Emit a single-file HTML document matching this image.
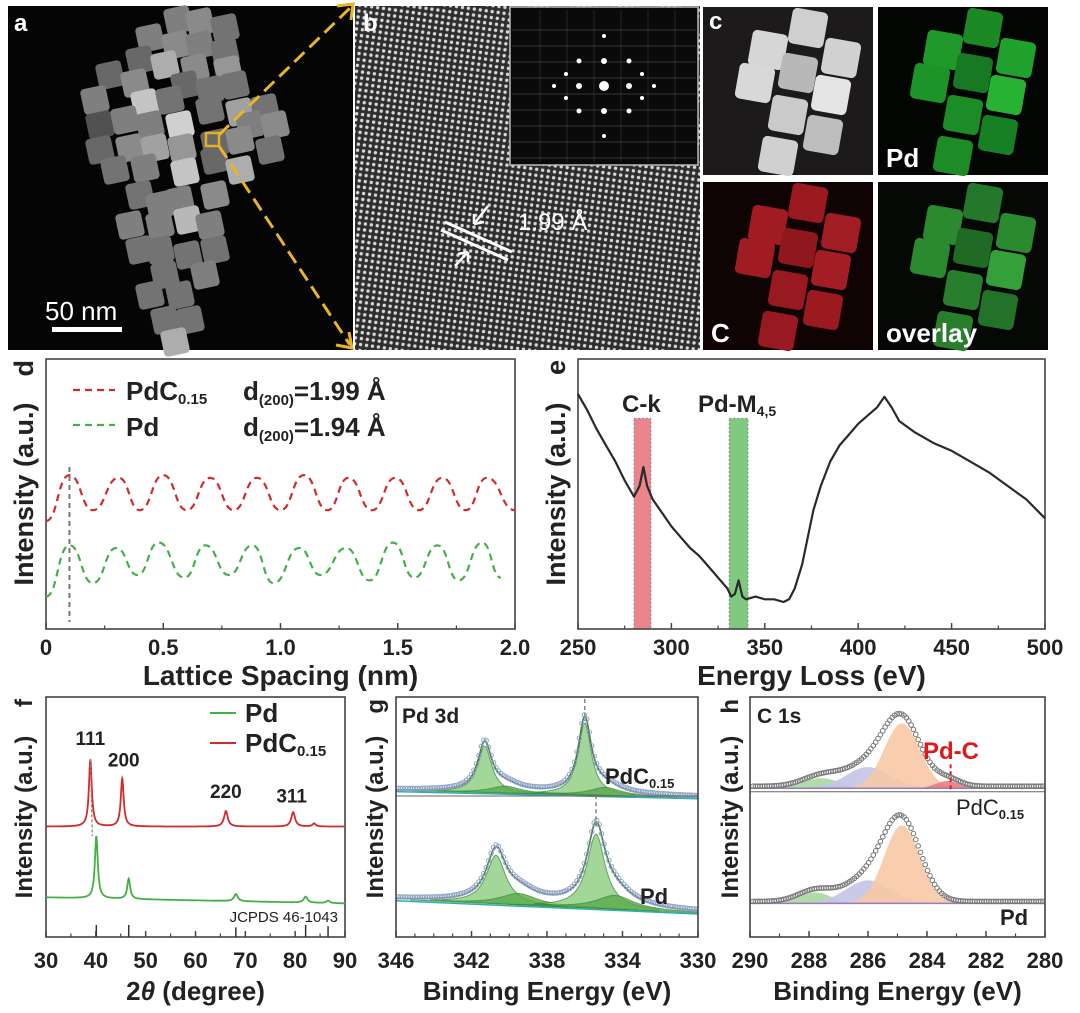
<!DOCTYPE html>
<html><head><meta charset="utf-8">
<style>
html,body{margin:0;padding:0;background:#fff;}
svg{display:block;font-family:"Liberation Sans",Arial,sans-serif;}
</style></head>
<body>
<svg id="fig" width="1080" height="1013" viewBox="0 0 1080 1013" xmlns="http://www.w3.org/2000/svg">
<defs>
<pattern id="lat" x="0" y="0" width="6" height="6" patternUnits="userSpaceOnUse" patternTransform="rotate(8)">
<rect width="6" height="6" fill="#2e2e2e"/><circle cx="3" cy="3" r="1.7" fill="#d8d8d8"/>
</pattern>
<clipPath id="clipG"><rect x="396" y="697" width="302" height="240"/></clipPath>
<clipPath id="clipH"><rect x="750" y="697" width="295" height="240"/></clipPath>
</defs>
<rect width="1080" height="1013" fill="#fff"/>
<g id="top"></g>
<g id="charts"></g>
</svg>
<script>
// ---------- DATA ----------
const dRedX=[0,0.1,0.2,0.31,0.4,0.5,0.6,0.7,0.8,0.9,1.0,1.1,1.2,1.29,1.39,1.49,1.59,1.69,1.79,1.88,2.0];
const dRedY=[0.40,0.57,0.44,0.56,0.44,0.57,0.44,0.56,0.44,0.56,0.44,0.57,0.44,0.56,0.44,0.56,0.44,0.56,0.44,0.56,0.44];
const dGreenX=[0,0.1,0.2,0.3,0.39,0.48,0.59,0.68,0.78,0.88,0.97,1.08,1.17,1.28,1.38,1.48,1.57,1.67,1.76,1.86,1.94];
const dGreenY=[0.12,0.31,0.17,0.30,0.20,0.32,0.19,0.31,0.20,0.31,0.17,0.30,0.20,0.30,0.18,0.32,0.19,0.31,0.18,0.32,0.19];
const dTicks=["0","0.5","1.0","1.5","2.0"];
const eX=[250,255,260,265,270,275,280,283,285,287,290,295,300,305,310,315,320,325,330,332,334,336,338,340,345,350,355,360,363,366,370,373,376,380,385,390,395,400,405,410,414,418,422,430,440,450,460,470,480,490,500];
const eY=[0.87,0.81,0.74,0.68,0.62,0.55,0.49,0.53,0.60,0.53,0.48,0.43,0.38,0.34,0.30,0.27,0.23,0.19,0.15,0.12,0.13,0.18,0.12,0.11,0.12,0.11,0.11,0.10,0.11,0.15,0.24,0.34,0.44,0.53,0.62,0.68,0.72,0.76,0.79,0.82,0.86,0.82,0.77,0.73,0.69,0.66,0.62,0.58,0.53,0.48,0.41];
const eTicks=[250,300,350,400,450,500];
const eBands=[[280,289,"#e8707a"],[331,341,"#6cc06a"]];
const fRedPos=[38.9,45.3,66.1,79.6,83.8], fRedH=[0.28,0.20,0.065,0.06,0.013], fRedW=[0.35,0.35,0.45,0.45,0.4];
const fGreenPos=[40.1,46.6,68.1,82.1,86.6], fGreenH=[0.26,0.085,0.03,0.025,0.01], fGreenW=[0.35,0.35,0.45,0.45,0.4];
const fRedBase=[0.46,0.46], fGreenBase=[0.165,0.14];
const fStickPos=[40.1,46.6,68.1,82.1,86.6], fStickH=[0.05,0.05,0.04,0.05,0.045];
const fTicks=[30,40,50,60,70,80,90];
const fLabels=["111","200","220","311"], fLabelX=[38.9,45.6,66.1,79.3], fLabelY=[0.80,0.71,0.58,0.56];
const gTopPos=[341.3,340.2,336.0,334.9], gTopH=[0.20,0.03,0.31,0.035], gTopW=[0.45,1.0,0.42,1.0];
const gBotPos=[340.7,339.5,335.4,334.4], gBotH=[0.21,0.05,0.32,0.06], gBotW=[0.62,1.2,0.58,1.2];
const gTopBase=[0.61,0.58], gBotBase=[0.155,0.10];
const gTicks=[346,342,338,334,330];
const hTopPos=[287.6,286.0,284.85,283.3], hTopH=[0.042,0.088,0.27,0.03], hTopW=[0.6,0.75,0.6,0.4];
const hBotPos=[287.8,286.0,284.85], hBotH=[0.046,0.096,0.325], hBotW=[0.55,0.75,0.6];
const hTopBase=0.62, hBotBase=0.14;
const hColors=["#a8d8a0","#c4c4e6","#f7c9a6","#ec7c7c"];
const hTicks=[290,288,286,284,282,280];

// ---------- HELPERS ----------
const NS="http://www.w3.org/2000/svg";
const charts=document.getElementById("charts");
const topG=document.getElementById("top");
function mk(tag,parent){const e=document.createElementNS(NS,tag);parent.appendChild(e);return e;}
function set(e,o){for(const k in o)e.setAttribute(k,o[k]);return e;}
function scale(d0,d1,r0,r1){return v=>r0+(v-d0)/(d1-d0)*(r1-r0);}
function txt(parent,x,y,s,size,opts){const t=mk("text",parent);set(t,{x:x,y:y,"font-size":size,"font-weight":(opts&&opts.nb)?"normal":"bold",fill:(opts&&opts.fill)||"#222","text-anchor":(opts&&opts.anchor)||"start"});if(opts&&opts.rot)t.setAttribute("transform","rotate(-90 "+x+" "+y+")");t.textContent=s;return t;}
function smooth(xs,ys,sx,sy){let d="M"+sx(xs[0]).toFixed(1)+","+sy(ys[0]).toFixed(1);for(let i=1;i<xs.length;i++){const x0=sx(xs[i-1]),x1=sx(xs[i]),m=(x0+x1)/2;d+=" C"+m.toFixed(1)+","+sy(ys[i-1]).toFixed(1)+" "+m.toFixed(1)+","+sy(ys[i]).toFixed(1)+" "+x1.toFixed(1)+","+sy(ys[i]).toFixed(1);}return d;}
function lor(x,p,h,w){const u=(x-p)/w;return h/(1+u*u);}
function gau(x,p,h,w){const u=(x-p)/w;return h*Math.exp(-0.5*u*u);}
function frame(g,X0,X1,Y0,Y1){const r=mk("rect",g);set(r,{x:X0,y:Y0,width:X1-X0,height:Y1-Y0,fill:"none",stroke:"#444","stroke-width":1.6});}
function xticks(g,sx,ticks,labels,minor,Y1,ly,size){ticks.forEach((t,i)=>{const l=mk("line",g);set(l,{x1:sx(t),x2:sx(t),y1:Y1,y2:Y1-6,stroke:"#444","stroke-width":1.5});const tl=txt(g,sx(t),ly,labels[i],size,{anchor:"middle"});});
 minor.forEach(t=>{const l=mk("line",g);set(l,{x1:sx(t),x2:sx(t),y1:Y1,y2:Y1-3.5,stroke:"#444","stroke-width":1.2});});}
function ytitle(g,x,yc,letter,ytop,size){const t=txt(g,x,yc,"Intensity (a.u.)",size,{anchor:"middle",rot:true});
 const L=txt(g,x,ytop,letter,size,{anchor:"end",rot:true});}

// ---------- TOP IMAGES ----------
(function(){
 const a=mk("g",topG);
 set(mk("rect",a),{x:8,y:6,width:345,height:344,fill:"#050505"});
 const cubes=[[178,20,.55],[200,22,.6],[225,28,.5],[150,38,.55],[176,45,.6],[200,45,.55],[225,52,.5],[140,60,.45],[165,65,.75],[195,68,.6],[228,70,.65],[110,75,.45],[135,83,.6],[185,85,.45],[210,90,.5],[235,85,.5],[95,100,.55],[145,103,.85],[170,100,.5],[210,110,.5],[240,112,.7],[265,108,.5],[100,125,.35],[125,120,.55],[150,125,.55],[180,125,.9],[250,125,.55],[275,125,.6],[100,150,.45],[130,148,.6],[155,148,.7],[182,148,.65],[215,143,.45],[240,140,.6],[270,150,.5],[115,170,.5],[145,168,.55],[185,172,.85],[215,160,.45],[240,170,.75],[140,195,.5],[160,205,.55],[180,200,.55],[215,195,.6],[130,225,.55],[160,225,.55],[188,220,.8],[210,225,.55],[140,250,.5],[160,250,.5],[188,255,.5],[215,250,.5],[165,275,.5],[205,275,.55],[150,295,.5],[180,295,.5],[165,320,.5],[190,320,.5],[175,342,.75]];
 cubes.forEach(c=>{const v=Math.round(c[2]*230);const r=mk("rect",a);set(r,{x:c[0]-13,y:c[1]-13,width:26,height:26,rx:4,fill:"rgb("+v+","+v+","+v+")",transform:"rotate(-12 "+c[0]+" "+c[1]+")"});});
 set(mk("rect",a),{x:206,y:133,width:13,height:13,fill:"none",stroke:"#e0b020","stroke-width":2.5});
 set(mk("path",a),{d:"M219,135 L350,8 M219,146 L350,345",stroke:"#e8b428","stroke-width":3,"stroke-dasharray":"14 7",fill:"none"});
 set(mk("path",a),{d:"M337,6 L353,4 L351,20 M336,345 L352,348 L349,332",stroke:"#e8b428","stroke-width":3,fill:"none"});
 set(mk("rect",a),{x:52,y:327,width:70,height:5,fill:"#fff"});
 const sb=txt(a,45,320,"50 nm",26,{fill:"#fff",nb:true});
 const la=txt(a,14,31,"a",24,{fill:"#fff"});

 const b=mk("g",topG);
 set(mk("rect",b),{x:355,y:6,width:345,height:344,fill:"url(#lat)"});
 set(mk("rect",b),{x:510,y:7,width:188,height:158,fill:"#0a0a0a",stroke:"#bbb","stroke-width":1.5});
 for(let i=0;i<9;i++){set(mk("line",b),{x1:512,x2:696,y1:30+i*16,y2:30+i*16,stroke:"#555","stroke-width":1,opacity:.6});}
 for(let i=0;i<6;i++){set(mk("line",b),{x1:540+i*27,x2:540+i*27,y1:10,y2:162,stroke:"#444","stroke-width":1,opacity:.5});}
 const spots=[[604,86,5],[579,86,3],[629,86,3],[604,61,3],[604,111,3],[579,61,2.5],[629,61,2.5],[579,111,2.5],[629,111,2.5],[554,86,2],[654,86,2],[604,36,2],[604,136,2],[566,74,2],[642,98,2],[566,98,2],[642,74,2]];
 spots.forEach(s=>set(mk("circle",b),{cx:s[0],cy:s[1],r:s[2],fill:"#fff"}));
 set(mk("path",b),{d:"M445,222 L512,252 M441,230 L508,260",stroke:"#fff","stroke-width":3,fill:"none"});
 set(mk("path",b),{d:"M488,206 L474,224 M474,224 L474,214 M474,224 L484,222 M455,266 L468,252 M468,252 L458,254 M468,252 L468,262",stroke:"#fff","stroke-width":2.5,fill:"none"});
 const lt=txt(b,518,230,"1.99 Å",24,{fill:"#fff",nb:true});
 const lb=txt(b,363,31,"b",24,{fill:"#fff"});

 const tiles=[[703,7,"#1c1a1a",["#d6d6d6","#cfcfcf","#d2d2d2","#d8d8d8","#b8b8b8","#e4e4e4","#cacaca","#bdbdbd","#d0d0d0"],"c",true,"panel-c-haadf"],
  [878,7,"#030503",["#1f9a2a","#1b8a25","#20a02c","#1d9428","#177a22","#28b234","#1b8c26","#188024","#1c8c27"],"Pd",false,"panel-c-pd-map"],
  [703,182,"#100304",["#a01c22","#9a1a20","#a01d23","#a01c22","#8e181e","#a21d24","#98191f","#9a1a20","#98191f"],"C",false,"panel-c-c-map"],
  [878,182,"#050805",["#2b8a30","#25782b","#2b8a30","#2a8a30","#1f6a25","#34a03a","#287e2d","#23722a","#287e2d"],"overlay",false,"panel-c-overlay"]];
 const cc=[[65,43],[105,21],[138,51],[52,76],[95,66],[128,88],[85,108],[120,128],[75,149]];
 tiles.forEach(t=>{const g=mk("g",topG);
  set(mk("rect",g),{x:t[0],y:t[1],width:170,height:168,fill:t[2]});
  cc.forEach((c,i)=>{const x=t[0]+c[0],y=t[1]+c[1];set(mk("rect",g),{x:x-18,y:y-18,width:36,height:36,rx:5,fill:t[3][i],transform:"rotate(10 "+x+" "+y+")"});});
  const l=txt(g,t[0]+(t[5]?6:8),t[5]?t[1]+22:t[1]+160,t[4],t[5]?24:26,{fill:"#fff"});});
})();

// ---------- PANEL D ----------
(function(){
 const g=mk("g",charts);
 const X0=46,X1=515,Y0=359,Y1=629;
 const sx=scale(0,2,X0,X1), sy=scale(0,1,Y1,Y0);
 frame(g,X0,X1,Y0,Y1);
 const vl=mk("line",g);set(vl,{x1:sx(0.1),x2:sx(0.1),y1:sy(0.6),y2:Y1-7,stroke:"#777","stroke-width":2,"stroke-dasharray":"5 4"});
 const r=mk("path",g);set(r,{d:smooth(dRedX,dRedY,sx,sy),fill:"none",stroke:"#d42a2a","stroke-width":2.2,"stroke-dasharray":"7 5"});
 const gr=mk("path",g);set(gr,{d:smooth(dGreenX,dGreenY,sx,sy),fill:"none",stroke:"#45b045","stroke-width":2.2,"stroke-dasharray":"7 5"});
 xticks(g,sx,[0,0.5,1,1.5,2],dTicks,[0.25,0.75,1.25,1.75],Y1,655,22);
 const xt=txt(g,(X0+X1)/2,685,"Lattice Spacing (nm)",28,{anchor:"middle"});
 ytitle(g,33,494,"d",360,27);
 const le=mk("g",g);
 set(mk("line",le),{x1:73,x2:115,y1:390,y2:390,stroke:"#d42a2a","stroke-width":2.2,"stroke-dasharray":"7 5"});
 set(mk("line",le),{x1:73,x2:115,y1:425,y2:425,stroke:"#45b045","stroke-width":2.2,"stroke-dasharray":"7 5"});
 const t1=txt(le,126,400,"PdC",26);const s1=mk("tspan",t1);set(s1,{"font-size":15,dy:4});s1.textContent="0.15";
 const t2=txt(le,126,436,"Pd",26);
 [[400,"1.99"],[436,"1.94"]].forEach(p=>{const t=txt(le,243,p[0],"d",26);const s=mk("tspan",t);set(s,{"font-size":15,dy:5});s.textContent="(200)";const s2=mk("tspan",t);set(s2,{dy:-5});s2.textContent="=" + p[1] + " Å";});
})();

// ---------- PANEL E ----------
(function(){
 const g=mk("g",charts);
 const X0=578,X1=1045,Y0=359,Y1=629;
 const sx=scale(250,500,X0,X1), sy=scale(0,1,Y1,Y0);
 eBands.forEach(b=>{const r=mk("rect",g);set(r,{x:sx(b[0]),y:sy(0.78),width:sx(b[1])-sx(b[0]),height:Y1-sy(0.78),fill:b[2],opacity:.85,stroke:"#777","stroke-width":1,"stroke-dasharray":"2 2"});});
 frame(g,X0,X1,Y0,Y1);
 let d="";eX.forEach((x,i)=>{d+=(i?"L":"M")+sx(x).toFixed(1)+","+sy(eY[i]).toFixed(1);});
 const p=mk("path",g);set(p,{d:d,fill:"none",stroke:"#2a2a2a","stroke-width":2.2,"stroke-linejoin":"round"});
 xticks(g,sx,eTicks,eTicks.map(String),[275,325,375,425,475],Y1,655,22);
 const xt=txt(g,(X0+X1)/2,685,"Energy Loss (eV)",28,{anchor:"middle"});
 ytitle(g,565,494,"e",360,27);
 const c1=txt(g,622,412,"C-k",24);
 const c2=txt(g,698,412,"Pd-M",24);const s=mk("tspan",c2);set(s,{"font-size":14,dy:4});s.textContent="4,5";
})();

// ---------- PANEL F ----------
(function(){
 const g=mk("g",charts);
 const X0=46,X1=345,Y0=697,Y1=937;
 const sx=scale(30,90,X0,X1), sy=scale(0,1,Y1,Y0);
 frame(g,X0,X1,Y0,Y1);
 function curve(pos,h,w,base){let d="";for(let x=30;x<=90.001;x+=0.05){let y=base[0]+(base[1]-base[0])*(x-30)/60;pos.forEach((p,i)=>y+=lor(x,p,h[i],w[i]));d+=(d?"L":"M")+sx(x).toFixed(1)+","+sy(y).toFixed(1);}return d;}
 const rl=mk("path",g);set(rl,{d:curve(fRedPos,fRedH,fRedW,fRedBase),fill:"none",stroke:"#d42a2a","stroke-width":1.8});
 const gl=mk("path",g);set(gl,{d:curve(fGreenPos,fGreenH,fGreenW,fGreenBase),fill:"none",stroke:"#45b045","stroke-width":1.8});
 set(mk("line",g),{x1:sx(38.9),x2:sx(39.3),y1:sy(0.74),y2:sy(0.42),stroke:"#888","stroke-width":1.3,"stroke-dasharray":"3 2"});
 fStickPos.forEach((p,i)=>{const l=mk("line",g);set(l,{x1:sx(p),x2:sx(p),y1:Y1,y2:sy(fStickH[i]),stroke:"#333","stroke-width":1.5});});
 fLabels.forEach((s,i)=>{const t=txt(g,sx(fLabelX[i]),sy(fLabelY[i]),s,19,{anchor:"middle"});});
 const j=txt(g,338,922,"JCPDS 46-1043",15,{anchor:"end",nb:true});
 xticks(g,sx,fTicks,fTicks.map(String),[35,45,55,65,75,85],Y1,968,22);
 const xt=txt(g,(X0+X1)/2,1000,"",26,{anchor:"middle"});const a1=mk("tspan",xt);a1.textContent="2";const a2=mk("tspan",xt);set(a2,{"font-style":"italic"});a2.textContent="θ";const a3=mk("tspan",xt);a3.textContent=" (degree)";
 ytitle(g,32,817,"f",699,24);
 const le=mk("g",g);
 set(mk("line",le),{x1:210,x2:236,y1:713,y2:713,stroke:"#45b045","stroke-width":2});
 set(mk("line",le),{x1:210,x2:236,y1:743,y2:743,stroke:"#d42a2a","stroke-width":2});
 const t1=txt(le,245,722,"Pd",26);
 const t2=txt(le,245,752,"PdC",26);const s=mk("tspan",t2);set(s,{"font-size":15,dy:4});s.textContent="0.15";
})();

// ---------- PANEL G ----------
(function(){
 const g=mk("g",charts);
 const X0=396,X1=698,Y0=697,Y1=937;
 const sx=scale(346,330,X0,X1), sy=scale(0,1,Y1,Y0);
 const cg=mk("g",g);cg.setAttribute("clip-path","url(#clipG)");
 
 
 function spectrum(pos,h,w,base,name){
  const bl=x=>base[0]+(base[1]-base[0])*(346-x)/16;
  pos.forEach((p,i)=>{let d="M"+sx(p-4*w[i]-1).toFixed(1)+","+sy(bl(p-4*w[i]-1)).toFixed(1);
   for(let x=p-4*w[i]-1;x<=p+4*w[i]+1;x+=0.05){d+="L"+sx(x).toFixed(1)+","+sy(bl(x)+lor(x,p,h[i],w[i])*0.97).toFixed(1);}d+="Z";
   const c=mk("path",cg);set(c,{d:d,fill:i%2?"#5aaa4a":"#8dce80",opacity:.8,stroke:"#3a8a3a","stroke-width":1});});
  let d="";for(let x=346;x>=329.999;x-=0.05){let y=bl(x);pos.forEach((p,i)=>y+=lor(x,p,h[i],w[i]));d+=(d?"L":"M")+sx(x).toFixed(1)+","+sy(y).toFixed(1);}
  const env=mk("path",cg);set(env,{d:d,fill:"none",stroke:"#4a7a5a","stroke-width":1.6});
  set(mk("line",cg),{x1:X0,x2:X1,y1:sy(base[0])+1,y2:sy(base[1])+1,stroke:"#2ab0b0","stroke-width":1.5});
  const mg=mk("g",cg);
  for(let x=345.9;x>=330;x-=0.13){let y=bl(x);pos.forEach((p,i)=>y+=lor(x,p,h[i],w[i]));set(mk("circle",mg),{cx:sx(x),cy:sy(y)-1.5,r:2.2,fill:"none",stroke:"#8fa2c6","stroke-width":1});}
 }
 spectrum(gTopPos,gTopH,gTopW,gTopBase,"pdc");
 spectrum(gBotPos,gBotH,gBotW,gBotBase,"pd");
 set(mk("line",g),{x1:sx(336.0),x2:sx(336.0),y1:Y0+2,y2:sy(0.9),stroke:"#888","stroke-width":1.5,"stroke-dasharray":"4 3"});
 set(mk("line",g),{x1:sx(335.4),x2:sx(335.4),y1:sy(0.62),y2:sy(0.46),stroke:"#888","stroke-width":1.5,"stroke-dasharray":"4 3"});
 set(mk("line",g),{x1:X0,x2:X1,y1:sy(0.575)-3,y2:sy(0.575)-3,stroke:"#666","stroke-width":1});
 frame(g,X0,X1,Y0,Y1);
 xticks(g,sx,gTicks,gTicks.map(String),[345,344,343,341,340,339,337,336,335,333,332,331],Y1,968,22);
 const xt=txt(g,(X0+X1)/2,1000,"Binding Energy (eV)",26,{anchor:"middle"});
 ytitle(g,383,817,"g",699,24);
 const t0=txt(g,402,723,"Pd 3d",21);
 const t1=txt(g,605,784,"PdC",22,{nb:false});const s=mk("tspan",t1);set(s,{"font-size":13,dy:4});s.textContent="0.15";
 const t2=txt(g,640,904,"Pd",22);
})();

// ---------- PANEL H ----------
(function(){
 const g=mk("g",charts);
 const X0=750,X1=1045,Y0=697,Y1=937;
 const sx=scale(290,280,X0,X1), sy=scale(0,1,Y1,Y0);
 const cg=mk("g",g);cg.setAttribute("clip-path","url(#clipH)");
 
 
 function spectrum(pos,h,w,base,name){
  pos.forEach((p,i)=>{let d="M"+sx(Math.min(290,p+3.5*w[i])).toFixed(1)+","+sy(base).toFixed(1);
   for(let x=Math.min(290,p+3.5*w[i]);x>=p-3.5*w[i];x-=0.03){d+="L"+sx(x).toFixed(1)+","+sy(base+gau(x,p,h[i],w[i])).toFixed(1);}d+="L"+sx(p-3.5*w[i]).toFixed(1)+","+sy(base).toFixed(1)+"Z";
   const c=mk("path",cg);set(c,{d:d,fill:hColors[i],opacity:.9,stroke:"none"});});
  set(mk("line",cg),{x1:X0,x2:X1,y1:sy(base),y2:sy(base),stroke:"#9a7ac0","stroke-width":1.5});
  const mg=mk("g",cg);
  for(let x=289.9;x>=280;x-=0.08){let y=base;pos.forEach((p,i)=>y+=gau(x,p,h[i],w[i]*1.05));set(mk("circle",mg),{cx:sx(x),cy:sy(y)-2,r:2.3,fill:"none",stroke:"#777","stroke-width":1});}
 }
 spectrum(hTopPos,hTopH,hTopW,hTopBase,"pdc");
 spectrum(hBotPos,hBotH,hBotW,hBotBase,"pd");
 set(mk("line",g),{x1:X0,x2:X1,y1:sy(0.605),y2:sy(0.605),stroke:"#666","stroke-width":1});
 set(mk("line",g),{x1:sx(283.2),x2:sx(283.2),y1:sy(0.72),y2:sy(0.61),stroke:"#d42020","stroke-width":2,"stroke-dasharray":"4 3"});
 frame(g,X0,X1,Y0,Y1);
 xticks(g,sx,hTicks,hTicks.map(String),[289,287,285,283,281],Y1,968,22);
 const xt=txt(g,(X0+X1)/2,1000,"Binding Energy (eV)",26,{anchor:"middle"});
 ytitle(g,738,817,"h",699,24);
 const t0=txt(g,757,723,"C 1s",21);
 const pc=txt(g,923,759,"Pd-C",24,{fill:"#e01a1a"});
 const t1=txt(g,956,815,"PdC",22,{nb:true});const s=mk("tspan",t1);set(s,{"font-size":13,dy:4,"font-weight":"bold"});s.textContent="0.15";
 const t2=txt(g,1000,925,"Pd",22);
})();
</script>
</body></html>
